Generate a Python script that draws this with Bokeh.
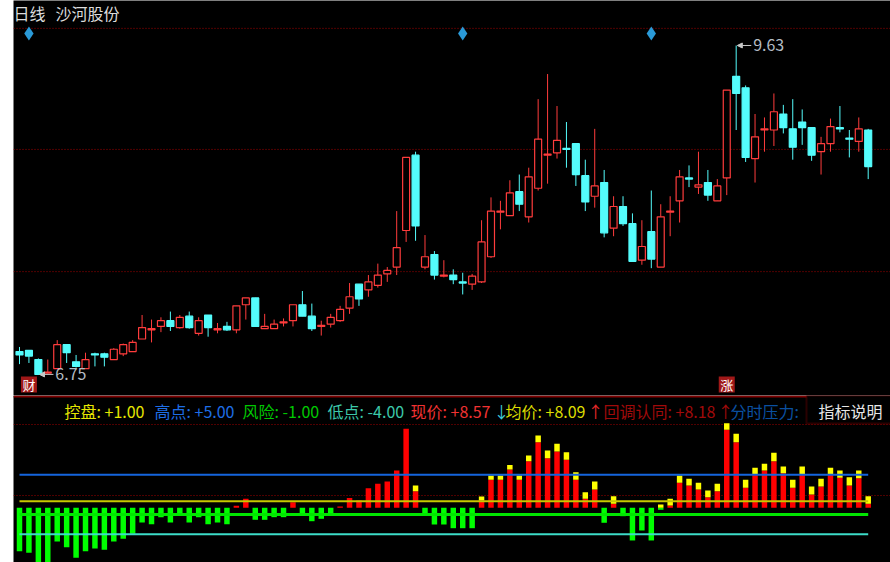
from bokeh.plotting import figure
from bokeh.layouts import column
from bokeh.models import Range1d, Span, Label, Arrow, NormalHead, BoxAnnotation
from bokeh.embed import file_html
from bokeh.resources import INLINE
from bokeh.core.properties import value

# ---------------- data ----------------
open_ = [6.95, 6.96, 6.88, 6.76, 6.80, 7.01, 6.86, 6.80, 6.93, 6.93,
         6.88, 6.93, 6.95, 7.06, 7.14, 7.17, 7.22, 7.16, 7.26, 7.11,
         7.27, 7.14, 7.17, 7.14, 7.36, 7.42, 7.15, 7.15, 7.20, 7.22,
         7.36, 7.26, 7.17, 7.19, 7.22, 7.33, 7.54, 7.49, 7.53, 7.63,
         7.69, 8.01, 8.67, 7.69, 7.80, 7.61, 7.62, 7.56, 7.54, 7.56,
         7.78, 8.17, 8.14, 8.35, 8.13, 8.38, 8.67, 8.69, 8.73, 8.77,
         8.49, 8.31, 8.43, 8.03, 8.22, 8.07, 7.75, 8.00, 7.69, 8.17,
         8.27, 8.47, 8.39, 8.43, 8.27, 8.47, 9.36, 9.26, 8.64, 8.89,
         8.89, 9.03, 8.90, 8.96, 8.91, 8.70, 8.77, 8.91, 8.82, 8.79,
         8.89]
high_ = [6.99, 6.96, 6.89, 6.88, 7.05, 7.01, 6.92, 6.94, 6.94, 6.94,
         6.98, 7.02, 7.05, 7.27, 7.23, 7.25, 7.30, 7.27, 7.30, 7.25,
         7.27, 7.20, 7.21, 7.35, 7.42, 7.42, 7.28, 7.23, 7.24, 7.36,
         7.48, 7.37, 7.22, 7.28, 7.35, 7.55, 7.54, 7.62, 7.72, 7.69,
         8.18, 8.65, 8.70, 7.97, 7.83, 7.75, 7.67, 7.64, 7.63, 8.10,
         8.30, 8.27, 8.45, 8.50, 8.56, 9.16, 9.38, 9.10, 8.96, 8.77,
         8.63, 8.90, 8.54, 8.31, 8.31, 8.16, 8.10, 8.36, 8.24, 8.31,
         8.54, 8.58, 8.70, 8.54, 8.46, 9.24, 9.63, 9.28, 9.03, 9.00,
         9.21, 9.11, 9.16, 9.07, 8.91, 8.83, 8.99, 9.10, 8.89, 9.00,
         8.90]
low_ = [6.84, 6.85, 6.75, 6.76, 6.80, 6.85, 6.81, 6.80, 6.82, 6.82,
        6.88, 6.91, 6.95, 7.06, 7.03, 7.12, 7.13, 7.15, 7.15, 7.09,
        7.08, 7.11, 7.13, 7.11, 7.23, 7.17, 7.15, 7.15, 7.17, 7.17,
        7.26, 7.13, 7.09, 7.16, 7.21, 7.28, 7.35, 7.43, 7.51, 7.56,
        7.62, 7.91, 7.92, 7.67, 7.58, 7.60, 7.54, 7.45, 7.49, 7.55,
        7.77, 8.02, 8.14, 8.18, 8.08, 8.36, 8.42, 8.64, 8.56, 8.40,
        8.18, 8.21, 7.95, 7.96, 8.05, 7.74, 7.71, 7.68, 7.69, 7.96,
        8.08, 8.39, 8.33, 8.27, 8.27, 8.32, 8.89, 8.61, 8.43, 8.70,
        8.75, 8.86, 8.63, 8.76, 8.62, 8.50, 8.70, 8.87, 8.65, 8.70,
        8.46]
close_ = [6.92, 6.91, 6.75, 6.77, 7.01, 6.94, 6.82, 6.88, 6.92, 6.90,
          6.97, 7.01, 7.03, 7.16, 7.15, 7.22, 7.17, 7.25, 7.16, 7.22,
          7.16, 7.15, 7.14, 7.35, 7.42, 7.17, 7.17, 7.19, 7.21, 7.36,
          7.26, 7.15, 7.18, 7.25, 7.32, 7.43, 7.41, 7.56, 7.62, 7.66,
          7.86, 8.65, 8.05, 7.78, 7.62, 7.62, 7.58, 7.55, 7.61, 7.91,
          8.18, 8.18, 8.34, 8.24, 8.48, 8.81, 8.68, 8.80, 8.72, 8.50,
          8.26, 8.40, 7.99, 8.22, 8.07, 7.74, 7.87, 7.76, 8.13, 8.18,
          8.48, 8.46, 8.41, 8.32, 8.40, 9.24, 9.21, 8.65, 8.83, 8.90,
          9.05, 8.91, 8.74, 8.91, 8.67, 8.77, 8.92, 8.90, 8.81, 8.90,
          8.57]

signal_days = [1, 47, 67]          # blue diamonds on top
event_days = [1, 75]               # boxed event markers
event_texts = ["财", "涨"]
price_grid = [7.65, 8.72, 9.78]

# indicator panel
red_bar = [0, 0, 0, 0, 0, 0, 0, 0, 0, 0,
           0, 0, 0, 0, 0, 0, 0, 0, 0, 0,
           0, 0, 0, 0.3, 1.36, 0, 0, 0, 0, 0.85,
           0, 0, 0, 0, 0.2, 1.5, 1.1, 2.97, 3.64, 3.98,
           5.65, 11.97, 2.52, 0, 0, 0, 0, 0, 0, 1.1,
           4.24, 4.24, 5.8, 4.24, 7.06, 9.94, 7.52, 8.53, 7.27, 4.24,
           1.36, 2.77, 0, 0.6, 0, 0, 0, 0, 0, 0.35,
           3.79, 3.38, 2.77, 1.61, 2.52, 11.82, 9.94, 3.03, 5.0, 5.65,
           7.06, 5.24, 3.03, 5.0, 2.02, 3.23, 5.0, 4.55, 3.38, 4.48,
           0.6]
cap_top = [0, 0, 0, 0, 0, 0, 0, 0, 0, 0,
           0, 0, 0, 0, 0, 0, 0, 0, 0, 0,
           0, 0, 0, 0.3, 1.36, 0, 0, 0, 0, 0.85,
           0, 0, 0, 0, 0.2, 1.5, 1.1, 2.97, 3.64, 3.98,
           5.65, 11.97, 3.38, 0, 0, 0, 0, 0, 0, 1.71,
           4.89, 4.89, 6.5, 4.89, 7.92, 10.95, 8.68, 9.7, 8.42, 5.39,
           2.36, 3.98, 0, 1.76, 0, 0, 0, 0, 0.5, 1.36,
           4.89, 4.39, 3.79, 2.62, 3.64, 12.82, 11.21, 4.24, 6.06, 6.67,
           8.33, 6.26, 4.24, 6.26, 3.23, 4.39, 6.06, 5.65, 4.64, 5.65,
           1.76]
green_bar = [-6.58, -6.82, -8.6, -8.4, -5.1, -5.97, -7.58, -6.58, -6.17, -6.37,
             -5.1, -4.7, -3.94, -2.23, -2.48, -1.42, -2.23, -0.81, -2.23, -1.42,
             -2.48, -2.23, -2.48, 0, 0, -1.82, -1.82, -1.42, -1.42, 0,
             -0.81, -2.03, -1.67, -0.81, 0, 0, 0, 0, 0, 0,
             0, 0, 0, -0.9, -2.53, -2.53, -3.09, -3.09, -3.09, 0,
             0, 0, 0, 0, 0, 0, 0, 0, 0, 0,
             0, 0, -2.27, 0, -1.27, -4.95, -3.44, -4.95, -0.3, 0,
             0, 0, 0, 0, 0, 0, 0, 0, 0, 0,
             0, 0, 0, 0, 0, 0, 0, 0, 0, 0,
             0]
kongpan, gaodian, fengxian, didian = 1.0, 5.0, -1.0, -4.0
avg_price = 8.09
pullback = 8.18
ind_grid = [1.86, 12.62]

# ---------------- geometry helpers (reference pixel -> data) ----------------
BAR_PX = 9.43
X0_PX = 19.0


def xd(px):
    return (px - X0_PX) / BAR_PX


def ty(py):
    return 10.024 - py / 114.2


def by(py):
    return (507.3 - py) / 6.6


FONT = "Noto Sans CJK SC"
n = len(close_)
idx = list(range(n))
x_range = Range1d(xd(13), xd(890))

common = dict(output_backend="svg", toolbar_location=None, background_fill_color="black",
              border_fill_color="white", min_border=0, min_border_left=13,
              outline_line_color=None, x_axis_location=None, y_axis_location=None)

top = figure(width=890, height=395, x_range=x_range, y_range=Range1d(ty(395), ty(0)), **common)
top.grid.visible = False

for lvl in price_grid:
    top.add_layout(Span(location=lvl, dimension="width", line_color="#a00000",
                        line_dash="1 2", line_width=1, level="underlay"))

RED = "#ff3c3c"
CYAN = "#54fcfc"
up = [c >= o for o, c in zip(open_, close_)]
col = [RED if u else CYAN for u in up]
fill = ["black" if u else CYAN for u in up]
body_top = [max(o, c) for o, c in zip(open_, close_)]
body_bot = [min(o, c) for o, c in zip(open_, close_)]

top.segment(x0=idx, y0=high_, x1=idx, y1=low_, line_color=col, line_width=1)
top.vbar(x=idx, width=0.74, top=body_top, bottom=body_bot, fill_color=fill,
         line_color=col, line_width=1.2)

imax = max(range(n), key=lambda i: high_[i])
imin = min(range(n), key=lambda i: low_[i])
for i, yv in [(imax, high_[imax]), (imin, low_[imin])]:
    top.add_layout(Arrow(end=NormalHead(size=5, fill_color="#c8c8c8", line_color="#c8c8c8"),
                         x_start=i + 1.6, y_start=yv, x_end=i + 0.12, y_end=yv,
                         line_color="#c8c8c8", line_width=1))
    top.add_layout(Label(x=i + 1.8, y=yv, text=f"{yv:.2f}", text_baseline="middle",
                         text_font_size="16px", text_color="#b4bcc4", text_font=FONT))

top.scatter(x=signal_days, y=[ty(33)] * len(signal_days), marker="diamond", size=14,
            fill_color="#2a9ad8", line_color=None)

top.rect(x=event_days, y=[ty(384)] * len(event_days), width=16, height=16,
         width_units="screen", height_units="screen", fill_color="#a01818", line_color=None)
top.text(x=event_days, y=[ty(384)] * len(event_days), text=event_texts, text_align="center",
         text_baseline="middle", text_font=value(FONT), text_font_size="13px", text_color="white")

top.add_layout(Label(x=xd(13), y=ty(12.5), text="日线", text_baseline="middle",
                     text_font_size="16px", text_color="#dcdcdc", text_font=FONT))
top.add_layout(Label(x=xd(55), y=ty(12.5), text="沙河股份", text_baseline="middle",
                     text_font_size="16px", text_color="#dcdcdc", text_font=FONT))

# ---------------- indicator panel ----------------
bot = figure(width=890, height=167, x_range=x_range, y_range=Range1d(by(562), by(395)), **common)
bot.grid.visible = False

for lvl in ind_grid:
    bot.add_layout(Span(location=lvl, dimension="width", line_color="#a00000",
                        line_dash="1 2", line_width=1, level="underlay"))

bot.vbar(x=idx, width=0.58, top=0, bottom=green_bar, fill_color="#00ff00", line_color=None)
bot.vbar(x=idx, width=0.58, top=red_bar, bottom=0, fill_color="#ff0000", line_color=None)
bot.vbar(x=idx, width=0.58, top=cap_top, bottom=red_bar, fill_color="#ffff00", line_color=None)

for lvl, colr, lw in [(kongpan, "#c8c800", 2), (gaodian, "#1464dc", 2),
                      (fengxian, "#00e600", 3), (didian, "#3cdcc8", 2)]:
    bot.line(x=idx, y=[lvl] * n, line_color=colr, line_width=lw)

bot.add_layout(Span(location=by(396), dimension="width", line_color="#800000", line_width=2))

segments = [
    (64, f"控盘: {kongpan:+.2f}", "#e6e600"),
    (154, f"高点: {gaodian:+.2f}", "#1e6ee6"),
    (242, f"风险: {fengxian:+.2f}", "#00c800"),
    (327, f"低点: {didian:+.2f}", "#3cc8aa"),
    (410, f"现价: {close_[-1]:+.2f}", "#f03232"),
    (493, "↓", "#3cc8dc"),
    (505, f"均价: {avg_price:+.2f}", "#dcdc00"),
    (587, "↑", "#e62828"),
    (603, f"回调认同: {pullback:+.2f}", "#a00a0a"),
    (717, "↑", "#a00a0a"),
    (730, "分时压力: ", "#0a50a0"),
]
for px, txt, colr in segments:
    bot.add_layout(Label(x=xd(px), y=by(410), text=txt, text_baseline="middle",
                         text_font_size="16px", text_color=colr, text_font=FONT))

bot.add_layout(BoxAnnotation(left=xd(806), right=xd(900), top=by(395), bottom=by(423),
                             fill_color="black", fill_alpha=1, line_color="#8b0000",
                             line_width=2))
bot.add_layout(Label(x=xd(818), y=by(410), text="指标说明", text_baseline="middle",
                     text_font_size="16px", text_color="#e6e6e6", text_font=FONT))

layout = column(top, bot, spacing=0)
open("out.html", "w").write(file_html(layout, INLINE))
